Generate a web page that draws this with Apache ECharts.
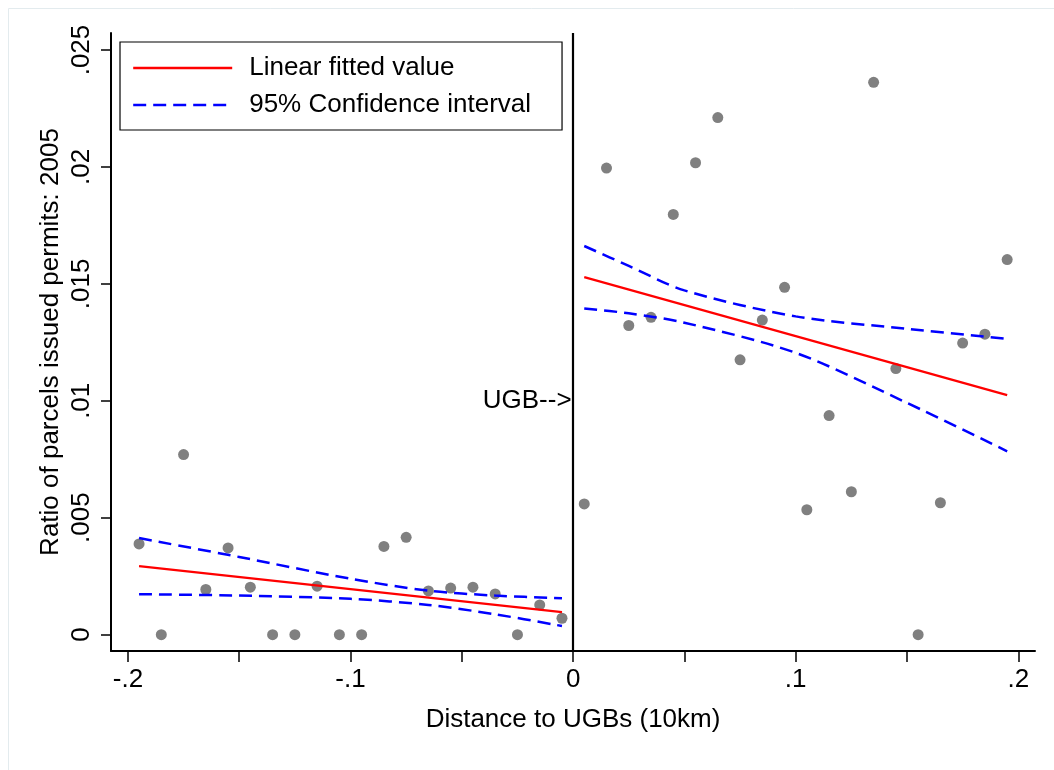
<!DOCTYPE html>
<html>
<head>
<meta charset="utf-8">
<script src="https://cdn.jsdelivr.net/npm/echarts@6/dist/echarts.min.js"></script>
<style>
html,body{margin:0;padding:0;background:#fff;}
#chart{width:1054px;height:770px;}
</style>
</head>
<body>
<div id="chart"></div>
<script>
// ---- data ----
var leftX  = [-0.195,-0.185,-0.175,-0.165,-0.155,-0.145,-0.135,-0.125,-0.115,-0.105,-0.095,-0.085,-0.075,-0.065,-0.055,-0.045,-0.035,-0.025,-0.015,-0.005];
var leftY  = [0.00388,0,0.0077,0.00193,0.00371,0.00203,0,0,0.00207,0,0,0.00377,0.00416,0.00187,0.00199,0.00203,0.00174,0,0.00127,0.0007];
var rightX = [0.005,0.015,0.025,0.035,0.045,0.055,0.065,0.075,0.085,0.095,0.105,0.115,0.125,0.135,0.145,0.155,0.165,0.175,0.185,0.195];
var rightY = [0.00559,0.01995,0.01322,0.01357,0.01797,0.02018,0.02211,0.01175,0.01345,0.01485,0.00534,0.00937,0.00611,0.02362,0.01138,0,0.00564,0.01247,0.01285,0.01604];

var leftFitX  = [-0.195,-0.005];
var leftFitY  = [0.00293,0.00096];
var rightFitX = [0.005,0.195];
var rightFitY = [0.01529,0.01024];

var leftCiX     = [-0.195,-0.15,-0.1,-0.065,-0.035,-0.005];
var leftCiUpper = [0.00413,0.00332,0.00239,0.00188,0.00167,0.00156];
var leftCiLower = [0.00173,0.00167,0.00153,0.00127,0.00087,0.00037];
var rightCiX     = [0.005,0.025,0.05,0.1,0.15,0.195];
var rightCiUpper = [0.01662,0.01577,0.01472,0.01361,0.01308,0.01265];
var rightCiLower = [0.01395,0.01374,0.01334,0.01205,0.00991,0.00784];

var xTickValues  = [-0.2,-0.15,-0.1,-0.05,0,0.05,0.1,0.15,0.2];
var xLabelValues = [-0.2,-0.1,0,0.1,0.2];
var yTickValues  = [0,0.005,0.01,0.015,0.02,0.025];

var cutoffX = 0;
var cutoffLabelY = 0.01;
var cutoffLabel = 'UGB-->';
var fitName = 'Linear fitted value';
var ciName = '95% Confidence interval';
var xTitle = 'Distance to UGBs (10km)';
var yTitle = 'Ratio of parcels issued permits: 2005';

// ---- helpers ----
function zip(xs, ys){ return xs.map(function(x,i){ return [x, ys[i]]; }); }
function fmt(v){
  if (Math.abs(v) < 1e-12) return '0';
  return String(+v.toFixed(4)).replace('0.', '.');
}
var FONT = '"Liberation Sans", Arial, Helvetica, sans-serif';
var FS = 26;

function fitSeries(xs, ys){
  return { name: fitName, type: 'line', symbol: 'none', data: zip(xs, ys),
    lineStyle: { color: '#ff0000', width: 2.2 }, itemStyle: { color: '#ff0000' },
    silent: true, z: 4 };
}
function ciSeries(xs, ys){
  return { name: ciName, type: 'line', symbol: 'none', smooth: 0.3, data: zip(xs, ys),
    lineStyle: { color: '#0000ff', width: 2.5, type: [13, 7] }, itemStyle: { color: '#0000ff' },
    silent: true, z: 3 };
}

var chart = echarts.init(document.getElementById('chart'), null, { renderer: 'canvas' });
chart.setOption({
  animation: false,
  backgroundColor: '#ffffff',
  textStyle: { fontFamily: FONT },
  graphic: [{ type: 'rect', left: 6, top: 6, shape: { width: 1070, height: 790 },
    style: { fill: 'none', stroke: '#e3ebee', lineWidth: 1 }, silent: true, z: -10 }],
  grid: { left: 111, right: 19, top: 33, bottom: 119, containLabel: false },
  legend: {
    left: 120, top: 42, orient: 'vertical',
    data: [fitName, ciName],
    borderColor: '#000', borderWidth: 1.2,
    padding: [13, 31, 12, 12],
    itemWidth: 99, itemHeight: 26, itemGap: 11,
    itemStyle: { opacity: 0 },
    lineStyle: { width: 2.4 },
    textStyle: { fontSize: FS, color: '#000', fontFamily: FONT, padding: [0, 0, 0, 12] },
    selectedMode: false
  },
  xAxis: {
    type: 'value', min: -0.2076, max: 0.2075,
    name: xTitle, nameLocation: 'middle', nameGap: 56, nameMoveOverlap: false,
    nameTextStyle: { fontSize: FS, color: '#000', fontFamily: FONT },
    splitLine: { show: false },
    axisLine: { show: true, onZero: false, lineStyle: { color: '#000', width: 2 } },
    axisTick: { show: true, inside: false, length: 11, customValues: xTickValues, lineStyle: { color: '#000', width: 1.5 } },
    axisLabel: { show: true, margin: 16, customValues: xLabelValues, formatter: fmt,
      fontSize: FS, color: '#000', fontFamily: FONT, showMinLabel: true, showMaxLabel: true }
  },
  yAxis: {
    type: 'value', min: -0.0007, max: 0.025728,
    name: yTitle, nameLocation: 'middle', nameGap: 47, nameRotate: 90, nameMoveOverlap: false,
    nameTextStyle: { fontSize: FS, color: '#000', fontFamily: FONT },
    splitLine: { show: false },
    axisLine: { show: true, onZero: false, lineStyle: { color: '#000', width: 2 } },
    axisTick: { show: true, inside: false, length: 10, customValues: yTickValues, lineStyle: { color: '#000', width: 1.5 } },
    axisLabel: { show: true, rotate: 90, margin: 16, customValues: yTickValues, formatter: fmt,
      fontSize: FS, color: '#000', fontFamily: FONT }
  },
  series: [
    { name: 'bins-left', type: 'scatter', data: zip(leftX, leftY), symbolSize: 11,
      itemStyle: { color: '#808080', opacity: 1 }, z: 2, silent: true },
    { name: 'bins-right', type: 'scatter', data: zip(rightX, rightY), symbolSize: 11,
      itemStyle: { color: '#808080', opacity: 1 }, z: 2, silent: true },
    fitSeries(leftFitX, leftFitY),
    fitSeries(rightFitX, rightFitY),
    ciSeries(leftCiX, leftCiUpper),
    ciSeries(leftCiX, leftCiLower),
    ciSeries(rightCiX, rightCiUpper),
    ciSeries(rightCiX, rightCiLower),
    { name: 'cutoff', type: 'scatter', data: [[cutoffX, cutoffLabelY]], symbolSize: 1,
      itemStyle: { color: '#000', opacity: 1 }, silent: true, z: 6,
      label: { show: true, position: 'left', distance: 1, formatter: cutoffLabel,
        fontSize: FS, color: '#000', opacity: 1, fontFamily: FONT },
      markLine: { silent: true, symbol: 'none', label: { show: false },
        lineStyle: { color: '#000', width: 2.2, type: 'solid' },
        data: [{ xAxis: cutoffX }] } }
  ]
});
</script>
</body>
</html>
